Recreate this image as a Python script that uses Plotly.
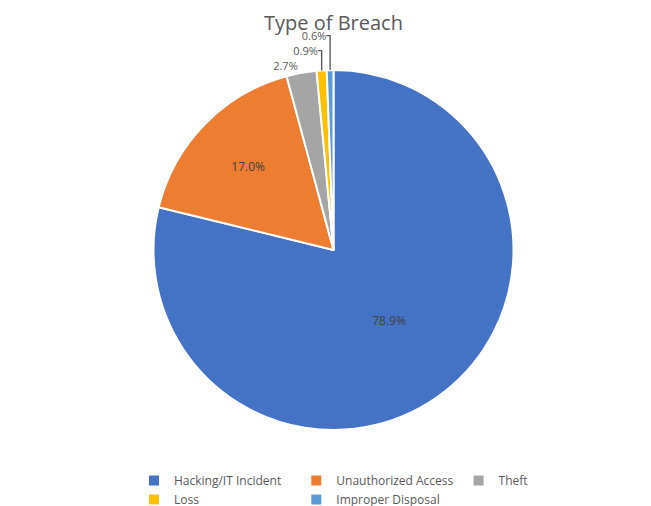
import plotly.graph_objects as go

labels = ['Hacking/IT Incident', 'Unauthorized Access', 'Theft', 'Loss', 'Improper Disposal']
values = [78.9, 17.0, 2.7, 0.9, 0.6]
colors = ['#4472C4', '#ED7D31', '#A5A5A5', '#FFC000', '#5B9BD5']

fig = go.Figure(go.Pie(
    labels=labels,
    values=values,
    sort=False,
    direction='clockwise',
    rotation=0,
    marker=dict(colors=colors, line=dict(color='white', width=2)),
    texttemplate='%{value:.1f}%',
    textinfo='text',
    textposition=['inside', 'inside', 'outside', 'outside', 'outside'],
    insidetextorientation='horizontal',
    textfont=dict(color='#404040', size=12),
    outsidetextfont=dict(color='#595959', size=11),
    hoverinfo='label+percent',
))

fig.update_layout(
    width=651, height=506,
    title=dict(text='Type of Breach', x=0.5, y=0.985, yanchor='top', xanchor='center',
               font=dict(size=20, color='#595959')),
    font=dict(family='Open Sans', color='#595959'),
    margin=dict(l=0, r=0, t=62, b=62),
    legend=dict(orientation='h', x=0.5, xanchor='center', y=-0.1, yanchor='top',
                font=dict(size=12, color='#595959'), itemwidth=30,
                tracegroupgap=0),
    paper_bgcolor='white',
)

fig.write_html("out.html")
